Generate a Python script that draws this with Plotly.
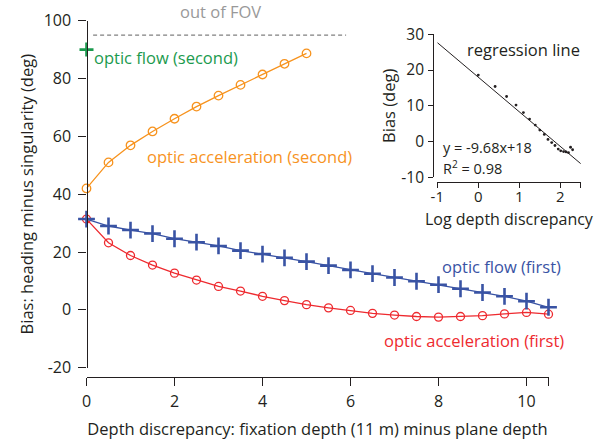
import plotly.graph_objects as go

# ---------------- data ----------------
x_first = [0, 0.5, 1, 1.5, 2, 2.5, 3, 3.5, 4, 4.5, 5, 5.5, 6, 6.5, 7, 7.5, 8, 8.5, 9, 9.5, 10, 10.5]
flow_first = [31.4, 29.0, 27.6, 26.4, 24.6, 23.4, 22.1, 20.5, 19.3, 18.0, 16.7, 15.3,
              13.8, 12.5, 11.2, 9.9, 8.7, 7.3, 6.0, 4.7, 3.0, 0.9]
accel_first = [31.4, 23.2, 18.8, 15.5, 12.7, 10.3, 8.1, 6.5, 4.7, 3.2, 1.8, 0.7,
               -0.2, -1.2, -1.8, -2.3, -2.5, -2.3, -2.0, -1.4, -0.9, -1.5]

x_second = [0, 0.5, 1, 1.5, 2, 2.5, 3, 3.5, 4, 4.5, 5]
accel_second = [42.0, 51.0, 56.9, 61.7, 66.1, 70.3, 74.1, 77.8, 81.4, 85.1, 88.7]

flow_second_x = [0]
flow_second_y = [90]

fov_x = [0.15, 5.9]
fov_y = [95, 95]

inset_x = [0.0, 0.41, 0.69, 0.92, 1.10, 1.25, 1.39, 1.50, 1.61, 1.70, 1.79,
           1.87, 1.95, 2.01, 2.08, 2.14, 2.20, 2.25, 2.30]
inset_y = [18.6, 15.4, 12.6, 10.2, 8.1, 6.3, 4.6, 3.2, 2.0, 0.6, -0.3,
           -1.1, -2.1, -2.6, -2.8, -2.9, -3.1, -1.6, -2.3]
reg_slope = -9.68
reg_intercept = 18
reg_x = [-1, 2.5]

main_xticks = [0, 2, 4, 6, 8, 10]
main_xticktext = ["0", "2", "4", "6", "8", "10"]
main_xend = 10.5
main_yticks = [-20, 0, 20, 40, 60, 80, 100]
main_yticktext = ["-20", "0", "20", "40", "60", "80", "100"]
inset_xticks = [-1, 0, 1, 2]
inset_xticktext = ["-1", "0", "1", "2"]
inset_xend = 2.5
inset_yticks = [-10, 0, 10, 20, 30]
inset_yticktext = ["-10", "0", "10", "20", "30"]

# ---------------- style ----------------
W, H = 612, 442
BLUE = "#3953a4"
RED = "#ee2a2f"
ORANGE = "#f7931e"
GREEN = "#1b9a4e"
GRAY = "#999999"
INK = "#231f20"
FONT = "Open Sans"
FS = 16.5

def px(x):
    return x / W

def py(y):
    return 1 - y / H

fig = go.Figure()

fig.add_trace(go.Scatter(x=fov_x, y=fov_y, mode="lines",
                         line=dict(color="#808080", width=1.2, dash="4px,3px"),
                         xaxis="x", yaxis="y", hoverinfo="skip"))
fig.add_trace(go.Scatter(x=x_first, y=accel_first, mode="lines+markers",
                         line=dict(color=RED, width=1.3),
                         marker=dict(symbol="circle-open", size=8, color=RED,
                                     line=dict(width=1.3, color=RED)),
                         xaxis="x", yaxis="y", cliponaxis=False))
fig.add_trace(go.Scatter(x=x_first, y=flow_first, mode="lines+markers",
                         line=dict(color=BLUE, width=1.3),
                         marker=dict(symbol="cross-thin", size=12, color=BLUE,
                                     line=dict(width=2.6, color=BLUE)),
                         xaxis="x", yaxis="y", cliponaxis=False))
fig.add_trace(go.Scatter(x=x_second, y=accel_second, mode="lines+markers",
                         line=dict(color=ORANGE, width=1.3),
                         marker=dict(symbol="circle-open", size=8.5, color=ORANGE,
                                     line=dict(width=1.3, color=ORANGE)),
                         xaxis="x", yaxis="y", cliponaxis=False))
fig.add_trace(go.Scatter(x=flow_second_x, y=flow_second_y, mode="markers",
                         marker=dict(symbol="cross-thin", size=10, color=GREEN,
                                     line=dict(width=2.6, color=GREEN)),
                         xaxis="x", yaxis="y", cliponaxis=False))

# inset
fig.add_trace(go.Scatter(x=reg_x, y=[reg_slope * v + reg_intercept for v in reg_x],
                         mode="lines", line=dict(color=INK, width=1),
                         xaxis="x2", yaxis="y2", cliponaxis=False))
fig.add_trace(go.Scatter(x=inset_x, y=inset_y, mode="markers",
                         marker=dict(symbol="circle", size=2.8, color=INK),
                         xaxis="x2", yaxis="y2", cliponaxis=False))

def axis_common(ticklen, fsize=16):
    return dict(showgrid=False, zeroline=False, showline=True, linecolor=INK,
                linewidth=1.3, ticks="outside", tickcolor=INK, tickwidth=1.3,
                ticklen=ticklen, automargin=False,
                tickfont=dict(family=FONT, size=fsize, color=INK))

def end_tick(val, ticklen):
    return dict(ticks="outside", tick0=val, dtick=1000, ticklen=ticklen,
                tickwidth=1.3, tickcolor=INK, showgrid=False)

title_font = dict(family=FONT, size=FS, color=INK)

fig.update_layout(
    template="none",
    width=W, height=H,
    margin=dict(l=0, r=0, t=0, b=0, pad=0),
    paper_bgcolor="white", plot_bgcolor="white",
    showlegend=False,
    font=dict(family=FONT, color=INK),
    xaxis=dict(axis_common(8), domain=[px(86.5), px(548.5)], range=[0, 10.5],
               anchor="free", position=py(376.7),
               tickmode="array", tickvals=main_xticks, ticktext=main_xticktext,
               ticklabelstandoff=2, minor=end_tick(main_xend, 8),
               title=dict(text="Depth discrepancy: fixation depth (11 m) minus plane depth",
                          font=title_font, standoff=12)),
    yaxis=dict(axis_common(8), domain=[py(367.7), py(20.7)], range=[-20, 100],
               anchor="free", position=px(86.5),
               tickmode="array", tickvals=main_yticks, ticktext=main_yticktext,
               ticklabelstandoff=4,
               title=dict(text="Bias: heading minus singularity (deg)",
                          font=title_font, standoff=4)),
    xaxis2=dict(axis_common(5, 15), domain=[px(437.3), px(580.8)], range=[-1, 2.5],
                anchor="free", position=py(181.7),
                tickmode="array", tickvals=inset_xticks, ticktext=inset_xticktext,
                ticklabelstandoff=-4, minor=end_tick(inset_xend, 5)),
    yaxis2=dict(axis_common(5, 15.5), domain=[py(177.3), py(34.3)], range=[-10, 30],
                anchor="free", position=px(433.3),
                tickmode="array", tickvals=inset_yticks, ticktext=inset_yticktext,
                ticklabelstandoff=1,
                title=dict(text="Bias (deg)",
                           font=title_font, standoff=0)),
)

ann_font = lambda c: dict(family=FONT, size=FS, color=c)
fig.add_annotation(text="Log depth discrepancy", x=px(509), y=py(218.5), xref="paper", yref="paper",
                   showarrow=False, font=dict(family=FONT, size=16, color=INK),
                   xanchor="center", yanchor="middle", borderpad=0)
fig.add_annotation(text="out of FOV", x=px(220), y=py(11), xref="paper", yref="paper",
                   showarrow=False, font=ann_font(GRAY), xanchor="center", yanchor="middle")
fig.add_annotation(text="optic flow (second)", x=px(92), y=py(58), xref="paper", yref="paper",
                   showarrow=False, font=ann_font(GREEN), xanchor="left", yanchor="middle")
fig.add_annotation(text="optic acceleration (second)", x=px(145), y=py(156), xref="paper", yref="paper",
                   showarrow=False, font=ann_font(ORANGE), xanchor="left", yanchor="middle")
fig.add_annotation(text="optic flow (first)", x=px(563), y=py(266), xref="paper", yref="paper",
                   showarrow=False, font=ann_font(BLUE), xanchor="right", yanchor="middle")
fig.add_annotation(text="optic acceleration (first)", x=px(566), y=py(340), xref="paper", yref="paper",
                   showarrow=False, font=ann_font(RED), xanchor="right", yanchor="middle")
fig.add_annotation(text="regression line", x=px(523), y=py(49), xref="paper", yref="paper",
                   showarrow=False, font=ann_font(INK), xanchor="center", yanchor="middle")
fig.add_annotation(text="y = -9.68x+18", x=px(441), y=py(148), xref="paper", yref="paper",
                   showarrow=False, font=dict(family=FONT, size=14.5, color=INK),
                   xanchor="left", yanchor="middle")
fig.add_annotation(text="R<sup>2</sup> = 0.98", x=px(441), y=py(167), xref="paper", yref="paper",
                   showarrow=False, font=dict(family=FONT, size=14.5, color=INK),
                   xanchor="left", yanchor="middle")

fig.write_html("out.html", config={"displayModeBar": False},
               post_script="document.body.style.margin='0';")
